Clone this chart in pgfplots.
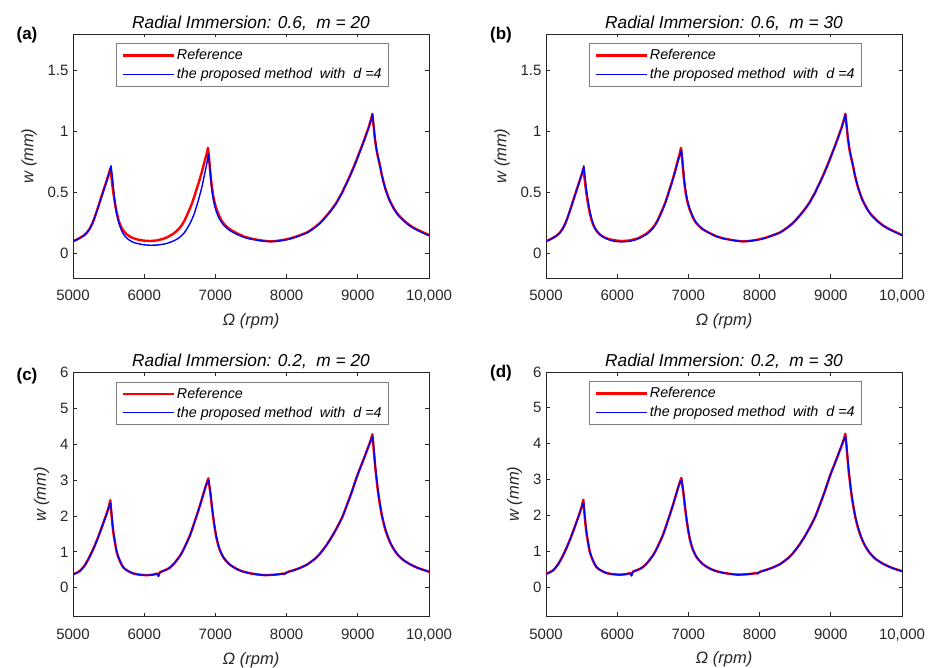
\documentclass[border=0pt]{standalone}
\usepackage{fontspec}
\setmainfont{Liberation Sans}
\usepackage{pgfplots}
\usepackage{pgfplotstable}
\pgfplotsset{compat=1.18}
\definecolor{axgray}{HTML}{262626}
\definecolor{legedge}{HTML}{7f7f7f}

% reference response, RI = 0.6
\pgfplotstableread{
x y
5000 0.103
5050 0.114
5100 0.13
5150 0.148
5192 0.17
5230 0.20
5270 0.245
5300 0.29
5332 0.345
5360 0.395
5390 0.45
5426 0.515
5460 0.575
5496 0.64
5512 0.67
5525 0.70
5535 0.655
5545 0.60
5555 0.55
5566 0.50
5578 0.455
5590 0.41
5602 0.37
5614 0.335
5637 0.28
5660 0.24
5680 0.215
5700 0.195
5727 0.175
5754 0.158
5785 0.145
5820 0.133
5860 0.124
5895 0.117
5950 0.110
6000 0.106
6082 0.103
6180 0.108
6268 0.121
6320 0.133
6360 0.146
6410 0.163
6456 0.185
6495 0.208
6530 0.235
6565 0.27
6597 0.31
6635 0.36
6670 0.41
6705 0.47
6737 0.53
6765 0.58
6790 0.63
6812 0.675
6830 0.715
6850 0.76
6870 0.80
6885 0.835
6896 0.867
6908 0.80
6920 0.72
6934 0.63
6948 0.555
6963 0.495
6980 0.44
7000 0.395
7018 0.36
7040 0.33
7060 0.30
7085 0.272
7111 0.25
7150 0.225
7200 0.20
7250 0.183
7298 0.168
7350 0.153
7400 0.14
7486 0.125
7600 0.112
7680 0.105
7767 0.10
7830 0.102
7900 0.107
7980 0.115
8048 0.124
8100 0.133
8160 0.145
8220 0.158
8282 0.172
8340 0.193
8400 0.218
8460 0.247
8516 0.28
8560 0.31
8610 0.345
8655 0.38
8703 0.42
8740 0.46
8780 0.50
8810 0.54
8844 0.58
8880 0.625
8920 0.68
8950 0.72
8984 0.77
9020 0.825
9060 0.885
9095 0.94
9125 0.99
9150 1.03
9170 1.07
9188 1.105
9204 1.146
9214 1.09
9225 1.03
9233 0.98
9242 0.935
9260 0.86
9280 0.80
9296 0.76
9312 0.72
9335 0.65
9360 0.59
9383 0.54
9406 0.50
9437 0.45
9470 0.41
9506 0.37
9546 0.335
9580 0.31
9620 0.288
9650 0.27
9687 0.252
9730 0.232
9780 0.214
9830 0.198
9874 0.186
9940 0.168
10000 0.152
}\redA

% proposed method, RI = 0.6, m = 20
\pgfplotstableread{
x y
5000 0.10
5050 0.112
5100 0.128
5150 0.146
5192 0.168
5230 0.198
5270 0.243
5300 0.287
5332 0.342
5360 0.39
5390 0.445
5426 0.51
5460 0.57
5496 0.635
5518 0.68
5535 0.72
5545 0.67
5555 0.62
5565 0.56
5575 0.50
5590 0.42
5602 0.37
5614 0.325
5637 0.265
5660 0.222
5680 0.192
5700 0.168
5727 0.145
5754 0.128
5785 0.113
5820 0.10
5860 0.09
5895 0.084
5950 0.077
6000 0.072
6082 0.068
6180 0.070
6268 0.077
6320 0.084
6360 0.092
6410 0.103
6456 0.117
6495 0.132
6530 0.15
6565 0.172
6597 0.20
6635 0.238
6670 0.28
6705 0.33
6737 0.39
6765 0.445
6790 0.50
6812 0.55
6830 0.60
6850 0.655
6870 0.71
6888 0.765
6903 0.82
6914 0.76
6925 0.69
6937 0.61
6948 0.535
6963 0.47
6980 0.415
7000 0.37
7018 0.335
7040 0.305
7060 0.28
7085 0.258
7111 0.238
7150 0.214
7200 0.19
7250 0.173
7298 0.158
7350 0.145
7400 0.133
7486 0.12
7600 0.108
7680 0.102
7767 0.099
7830 0.100
7900 0.104
7980 0.111
8048 0.120
8100 0.129
8160 0.141
8220 0.154
8282 0.168
8340 0.189
8400 0.214
8460 0.243
8516 0.276
8560 0.306
8610 0.341
8655 0.376
8703 0.416
8740 0.456
8780 0.496
8810 0.536
8844 0.576
8880 0.62
8920 0.675
8950 0.715
8984 0.765
9020 0.82
9060 0.88
9095 0.935
9125 0.985
9150 1.025
9170 1.062
9190 1.10
9208 1.14
9218 1.08
9229 1.02
9237 0.97
9246 0.925
9264 0.85
9284 0.79
9300 0.75
9316 0.71
9339 0.64
9364 0.58
9387 0.53
9410 0.49
9441 0.44
9474 0.40
9510 0.362
9550 0.327
9584 0.302
9624 0.28
9654 0.262
9691 0.244
9734 0.225
9784 0.207
9834 0.191
9878 0.179
9944 0.161
10000 0.146
}\blueA

% proposed method, RI = 0.6, m = 30
\pgfplotstableread{
x y
5000 0.10
5050 0.112
5100 0.128
5150 0.147
5192 0.169
5230 0.199
5270 0.244
5300 0.289
5332 0.344
5360 0.393
5390 0.448
5426 0.513
5460 0.573
5496 0.638
5515 0.675
5532 0.72
5542 0.665
5552 0.61
5562 0.555
5573 0.505
5585 0.455
5597 0.41
5609 0.37
5621 0.335
5644 0.278
5667 0.237
5687 0.211
5707 0.19
5734 0.17
5761 0.153
5792 0.139
5827 0.127
5867 0.117
5900 0.11
5950 0.102
6000 0.098
6060 0.096
6180 0.101
6268 0.115
6320 0.127
6360 0.14
6410 0.157
6456 0.179
6495 0.202
6530 0.229
6565 0.264
6597 0.304
6635 0.354
6670 0.404
6705 0.464
6737 0.524
6765 0.574
6790 0.624
6812 0.668
6830 0.707
6850 0.75
6870 0.79
6888 0.82
6903 0.85
6914 0.79
6926 0.71
6940 0.62
6954 0.548
6969 0.49
6986 0.436
7006 0.392
7024 0.357
7046 0.327
7066 0.298
7091 0.27
7117 0.248
7156 0.223
7206 0.198
7256 0.181
7304 0.166
7350 0.152
7400 0.139
7486 0.124
7600 0.111
7680 0.104
7767 0.099
7830 0.101
7900 0.106
7980 0.113
8048 0.122
8100 0.131
8160 0.143
8220 0.156
8282 0.170
8340 0.191
8400 0.216
8460 0.245
8516 0.278
8560 0.308
8610 0.343
8655 0.378
8703 0.418
8740 0.458
8780 0.498
8810 0.538
8844 0.578
8880 0.622
8920 0.677
8950 0.717
8984 0.767
9020 0.822
9060 0.882
9095 0.937
9125 0.987
9150 1.027
9170 1.066
9190 1.103
9207 1.143
9217 1.085
9228 1.025
9236 0.975
9245 0.93
9263 0.855
9283 0.795
9299 0.755
9315 0.715
9338 0.645
9363 0.585
9386 0.535
9409 0.495
9440 0.445
9473 0.405
9509 0.366
9549 0.331
9583 0.306
9623 0.284
9653 0.266
9690 0.248
9733 0.229
9783 0.211
9833 0.195
9877 0.183
9943 0.165
10000 0.149
}\blueB

% reference response, RI = 0.2
\pgfplotstableread{
x y
5000 0.375
5050 0.415
5098 0.47
5135 0.55
5170 0.64
5205 0.76
5239 0.89
5275 1.04
5310 1.20
5345 1.37
5379 1.55
5405 1.69
5430 1.83
5452 1.95
5473 2.07
5500 2.24
5524 2.44
5534 2.20
5545 1.95
5555 1.74
5566 1.55
5578 1.39
5590 1.25
5602 1.11
5614 0.99
5637 0.85
5660 0.74
5683 0.64
5707 0.565
5745 0.50
5780 0.46
5815 0.425
5847 0.40
5890 0.38
5940 0.365
6035 0.35
6120 0.365
6184 0.395
6200 0.33
6212 0.40
6225 0.44
6260 0.465
6290 0.49
6325 0.52
6362 0.565
6395 0.625
6430 0.70
6465 0.79
6503 0.89
6535 1.00
6570 1.14
6605 1.29
6643 1.46
6675 1.64
6710 1.85
6747 2.07
6784 2.30
6820 2.54
6854 2.77
6878 2.92
6900 3.05
6912 2.88
6925 2.70
6937 2.50
6948 2.30
6963 2.05
6980 1.80
6998 1.57
7018 1.36
7038 1.20
7060 1.06
7085 0.95
7111 0.85
7150 0.75
7200 0.65
7250 0.58
7298 0.525
7350 0.48
7400 0.445
7486 0.405
7580 0.375
7674 0.355
7740 0.355
7800 0.36
7880 0.375
7950 0.395
7970 0.385
7985 0.41
8030 0.45
8100 0.49
8190 0.555
8282 0.64
8340 0.72
8400 0.81
8460 0.93
8516 1.07
8560 1.19
8610 1.34
8655 1.49
8703 1.66
8740 1.80
8780 1.96
8810 2.11
8844 2.29
8880 2.48
8920 2.70
8950 2.88
8984 3.08
9020 3.27
9060 3.47
9095 3.65
9125 3.81
9150 3.94
9170 4.05
9188 4.15
9204 4.28
9213 4.10
9222 3.90
9232 3.66
9242 3.43
9253 3.20
9265 3.00
9277 2.78
9289 2.60
9304 2.40
9320 2.21
9338 2.01
9358 1.84
9378 1.68
9400 1.54
9425 1.40
9452 1.27
9485 1.14
9520 1.03
9555 0.935
9593 0.855
9635 0.78
9680 0.72
9730 0.66
9780 0.61
9835 0.56
9890 0.52
9945 0.485
10000 0.45
}\redC

% proposed method, RI = 0.2
\pgfplotstableread{
x y
5000 0.37
5050 0.41
5098 0.465
5135 0.545
5170 0.635
5205 0.755
5239 0.885
5275 1.035
5310 1.195
5345 1.365
5379 1.545
5405 1.685
5430 1.825
5452 1.945
5473 2.065
5500 2.225
5528 2.37
5538 2.15
5549 1.92
5559 1.72
5570 1.54
5582 1.38
5594 1.24
5606 1.10
5618 0.98
5641 0.845
5664 0.735
5687 0.637
5711 0.562
5749 0.497
5784 0.457
5819 0.422
5851 0.397
5890 0.377
5940 0.362
6035 0.347
6120 0.362
6184 0.392
6200 0.32
6212 0.395
6225 0.435
6260 0.462
6290 0.487
6325 0.517
6362 0.562
6395 0.622
6430 0.697
6465 0.787
6503 0.887
6535 0.997
6570 1.137
6605 1.287
6643 1.457
6675 1.637
6710 1.847
6747 2.067
6784 2.297
6820 2.537
6854 2.767
6880 2.91
6904 3.00
6916 2.86
6929 2.68
6941 2.48
6952 2.29
6967 2.04
6984 1.79
7002 1.56
7021 1.355
7041 1.195
7063 1.055
7088 0.945
7114 0.845
7153 0.745
7203 0.645
7253 0.577
7301 0.522
7350 0.477
7400 0.442
7486 0.402
7580 0.372
7674 0.352
7740 0.352
7800 0.357
7880 0.372
7950 0.392
7970 0.382
7985 0.407
8030 0.447
8100 0.487
8190 0.552
8282 0.637
8340 0.717
8400 0.807
8460 0.927
8516 1.067
8560 1.187
8610 1.337
8655 1.487
8703 1.657
8740 1.797
8780 1.957
8810 2.107
8844 2.287
8880 2.477
8920 2.697
8950 2.877
8984 3.077
9020 3.267
9060 3.467
9095 3.647
9125 3.807
9150 3.937
9170 4.045
9190 4.14
9208 4.22
9217 4.05
9226 3.86
9236 3.63
9246 3.40
9257 3.18
9269 2.98
9281 2.77
9293 2.59
9308 2.39
9324 2.20
9342 2.00
9362 1.835
9382 1.675
9404 1.535
9429 1.395
9456 1.265
9489 1.135
9524 1.025
9559 0.93
9597 0.85
9639 0.775
9684 0.715
9734 0.655
9784 0.605
9839 0.555
9894 0.515
9949 0.48
10000 0.445
}\blueC

\pgfplotsset{
  legend image code/.code={%
    \path (0pt,0pt) -- (51pt,0pt);
    \draw[#1] (0pt,0pt) -- (47pt,0pt);},
  panel/.style={
    scale only axis, width=356pt, height=244pt, anchor=south west,
    xmin=5000, xmax=10000, scaled x ticks=false,
    xtick={5000,6000,7000,8000,9000,10000},
    xticklabels={5000,6000,7000,8000,9000,{10,000}},
    tick align=inside, major tick length=3.5pt,
    axis line style={axgray, line width=0.9pt},
    every tick/.style={axgray, line width=0.9pt},
    tick label style={font=\fontsize{15}{18}\selectfont, text=axgray},
    xticklabel style={yshift=-9pt},
    yticklabel style={xshift=-1pt},
    /pgf/number format/assume math mode=true,
    xlabel={Ω (rpm)}, ylabel={w (mm)},
    label style={font=\fontsize{16.5}{19}\selectfont\itshape, text=axgray},
    xlabel style={yshift=-4pt},
    ylabel style={yshift=4pt},
    title style={font=\fontsize{17.3}{20}\selectfont\itshape, yshift=-6pt},
    legend cell align=left,
    legend style={at={(0.121,0.963)}, anchor=north west, draw=legedge,
      line width=0.9pt, font=\fontsize{14.3}{16}\selectfont\itshape,
      inner xsep=5pt, inner ysep=4pt, row sep=3pt},
  },
  toprow/.style={ymin=-0.2, ymax=1.8, ytick={0,0.5,1,1.5}},
  botrow/.style={ymin=-0.8, ymax=6, ytick={0,1,2,3,4,5,6}},
  refline/.style={red, line width=2.4pt, line join=round},
  propline/.style={blue, line width=1.4pt, line join=round},
}

\begin{document}
\begin{tikzpicture}
\path[use as bounding box] (0pt,0pt) rectangle (929pt,668pt);

\begin{axis}[panel, toprow, at={(73pt,390pt)},
  title={Radial Immersion: 0.6,\ \ m = 20}]
\addplot[refline] table {\redA};
\addplot[propline] table {\blueA};
\legend{Reference, the proposed method\ \ with\ \ d =4}
\end{axis}

\begin{axis}[panel, toprow, at={(546pt,390pt)},
  title={Radial Immersion: 0.6,\ \ m = 30}]
\addplot[refline] table {\redA};
\addplot[propline] table {\blueB};
\legend{Reference, the proposed method\ \ with\ \ d =4}
\end{axis}

\begin{axis}[panel, botrow, at={(73pt,51.5pt)},
  title={Radial Immersion: 0.2,\ \ m = 20}]
\addplot[refline] table {\redC};
\addplot[propline] table {\blueC};
\legend{Reference, the proposed method\ \ with\ \ d =4}
\end{axis}

\begin{axis}[panel, botrow, at={(546pt,52pt)},
  title={Radial Immersion: 0.2,\ \ m = 30}]
\addplot[refline] table {\redC};
\addplot[propline] table {\blueC};
\legend{Reference, the proposed method\ \ with\ \ d =4}
\end{axis}

\node[font=\fontsize{17}{20}\selectfont\bfseries] at (27pt,633pt) {(a)};
\node[font=\fontsize{17}{20}\selectfont\bfseries] at (501pt,633pt) {(b)};
\node[font=\fontsize{17}{20}\selectfont\bfseries] at (27pt,292pt) {(c)};
\node[font=\fontsize{17}{20}\selectfont\bfseries] at (501pt,295pt) {(d)};
\end{tikzpicture}
\end{document}
